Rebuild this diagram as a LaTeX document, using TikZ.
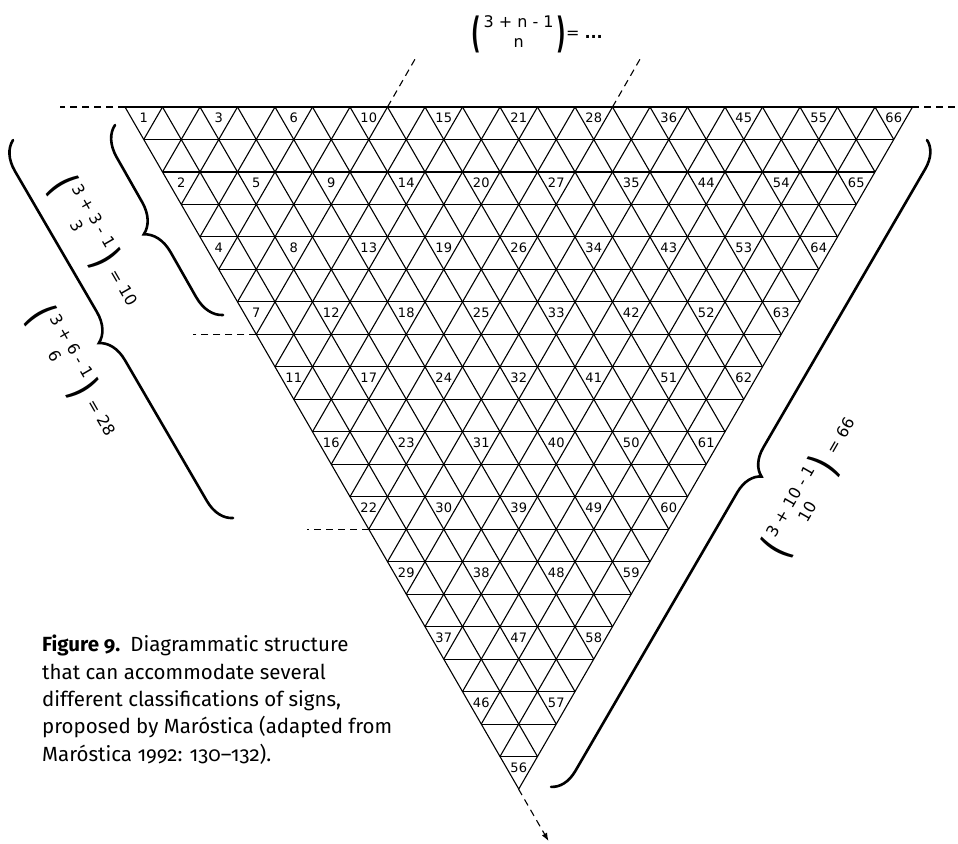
\documentclass[tikz,border=0pt]{standalone}
\usepackage{fontspec}
\usepackage{graphicx}
\setmainfont{DejaVu Sans}
\newfontfamily\captionfont[Numbers=OldStyle]{Fira Sans}
\usetikzlibrary{arrows.meta,decorations.pathreplacing}
\newcommand\bigparen[1]{\vcenter{\hbox{\scalebox{1.3}[2.6]{\bfseries #1}}}}
\newcommand\signbinom[2]{$\bigparen{(}\,\vcenter{\hbox{\begin{tabular}{@{}c@{}}#1\\#2\end{tabular}}}\,\bigparen{)}$}
\tikzset{
  grid line/.style={line width=1.1pt, draw=black},
  guide/.style={line width=1.1pt, dash pattern=on 7pt off 5pt},
  cellnum/.style={font=\fontsize{13}{15}\selectfont, inner sep=0pt},
  bracket/.style={decorate, decoration={brace, amplitude=#1}, line width=2.6pt, line cap=round},
  count/.style={font=\fontsize{16}{20}\selectfont, inner sep=0pt, align=center},
  caption/.style={font=\captionfont\fontsize{20.5}{27.3}\selectfont, inner sep=0pt, align=left},
}
\begin{document}
\begin{tikzpicture}[x=1pt,y=-1pt]
  \useasboundingbox (0,0) rectangle (958,843);
  \coordinate (tl) at (125,107);
  \coordinate (tr) at (912,107);
  \coordinate (apex) at (518.5,789);
  \coordinate (v7) at (387.5,107);
  \coordinate (v13) at (612.5,107);
  \coordinate (l7) at (256.25,334.3);
  \coordinate (l13) at (368.75,529.2);
  \foreach \r in {0,...,20}
    \draw[grid line] ({125+18.75*\r},{107+32.476*\r}) -- ({912-18.75*\r},{107+32.476*\r});
  \foreach \i in {0,...,20}
    \draw[grid line] ({125+37.5*\i},107) -- ++({18.75*(21-\i)},{32.476*(21-\i)});
  \foreach \i in {1,...,21}
    \draw[grid line] ({125+37.5*\i},107) -- ++({-18.75*\i},{32.476*\i});
  \foreach \k in {0,...,10} {
    \pgfmathtruncatemacro\jmax{10-\k}
    \foreach \j in {0,...,\jmax} {
      \pgfmathtruncatemacro\lbl{(\j+\k+1)*(\j+\k+2)/2-\k}
      \node[cellnum] (c\lbl) at ({125+37.5*(\k+2*\j+0.5)},{107+32.476*(2*\k+1/3)}) {\lbl};
    }
  }
  \draw[guide] (tl) -- ++(-65,0);
  \draw[guide] (tr) -- ++(46,0);
  \draw[guide] (l7) -- ++(-63,0);
  \draw[guide] (l13) -- ++(-62,0);
  \draw[guide] (v7) -- ++(28,-48.7);
  \draw[guide] (v13) -- ++(28,-48.7);
  \draw[guide,-{Latex[length=8pt,width=6pt]}] (apex) -- ++(30,52);
  \coordinate (b10a) at (223,315);
  \coordinate (b10b) at (115,125);
  \coordinate (b28a) at (233,518);
  \coordinate (b28b) at (13,140);
  \coordinate (b66a) at (927,140);
  \coordinate (b66b) at (551,787);
  \draw[bracket=29] (b10a) -- (b10b);
  \draw[bracket=28] (b28a) -- (b28b);
  \draw[bracket=26] (b66a) -- (b66b);
  \node[count,rotate=-60] (k10) at (96,243) {\signbinom{3 + 3 - 1}{3}\ \ = 10};
  \node[count,rotate=-60] (k28) at (74,373) {\signbinom{3 + 6 - 1}{6}\ \ = 28};
  \node[count,rotate=60] (k66) at (813,486) {\signbinom{3 + 10 - 1}{10}\ \ = 66};
  \node[count] (kn) at (537,34) {\signbinom{3 + n - 1}{n}= \textbf{...}};
  \node[caption,anchor=north west] (caption) at (42,635) {\textbf{Figure 9.}\enspace Diagrammatic structure\\that can accommodate several\\different classifications of signs,\\proposed by Maróstica (adapted from\\Maróstica 1992: 130–132).};
\end{tikzpicture}
\end{document}
